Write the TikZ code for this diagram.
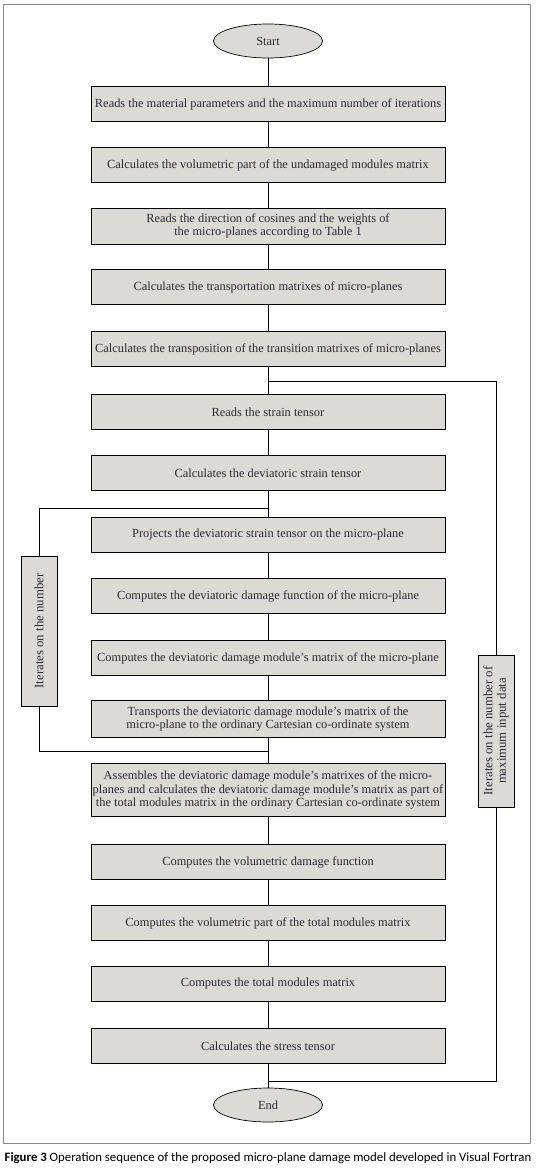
\documentclass[tikz,border=0pt]{standalone}
\usepackage{fontspec}
\setmainfont{Liberation Serif}
\newfontfamily\capfont{Carlito}
\usetikzlibrary{shapes.geometric}
\definecolor{boxfill}{HTML}{DBDAD4}
\definecolor{framegray}{HTML}{8A8A8A}
\definecolor{inkgray}{HTML}{2B2B35}
\tikzset{
  proc/.style={draw=black, fill=boxfill, line width=0.9pt, minimum width=354pt, minimum height=35pt,
    inner sep=0pt, align=center, text=inkgray, font=\fontsize{12.4}{13.8}\selectfont},
  term/.style={ellipse, draw=black, fill=boxfill, line width=0.7pt, minimum width=109pt, minimum height=34pt,
    inner sep=0pt, text=inkgray, font=\fontsize{12.4}{13.8}\selectfont},
  iter/.style={draw=black, fill=boxfill, line width=0.9pt, rotate=90, minimum height=36pt,
    inner sep=0pt, align=center, text=inkgray, font=\fontsize{12.8}{13.6}\selectfont},
  flow/.style={black, line width=0.9pt}
}
\begin{document}
\begin{tikzpicture}[x=1pt,y=-1pt]
  \useasboundingbox (0,0) rectangle (536,1169);
  \draw[framegray, line width=1.5pt] (3.5,4.5) rectangle (530.5,1143.5);

  % main sequence
  \node[term] (start) at (268,41) {Start};
  \node[proc] (b1) at (268,104) {Reads the material parameters and the maximum number of iterations};
  \node[proc] (b2) at (268,165) {Calculates the volumetric part of the undamaged modules matrix};
  \node[proc, minimum height=36pt] (b3) at (268,226) {Reads the direction of cosines and the weights of\\the micro-planes according to Table 1};
  \node[proc] (b4) at (268,287) {Calculates the transportation matrixes of micro-planes};
  \node[proc] (b5) at (268,349) {Calculates the transposition of the transition matrixes of micro-planes};
  \node[proc] (b6) at (268,412) {Reads the strain tensor};
  \node[proc] (b7) at (268,473) {Calculates the deviatoric strain tensor};
  \node[proc] (b8) at (268,535) {Projects the deviatoric strain tensor on the micro-plane};
  \node[proc] (b9) at (268,596) {Computes the deviatoric damage function of the micro-plane};
  \node[proc] (b10) at (268,658) {Computes the deviatoric damage module's matrix of the micro-plane};
  \node[proc, minimum height=37pt] (b11) at (268,719) {Transports the deviatoric damage module's matrix of the\\micro-plane to the ordinary Cartesian co-ordinate system};
  \node[proc, minimum height=53pt] (b12) at (268,790) {Assembles the deviatoric damage module's matrixes of the micro-\\planes and calculates the deviatoric damage module's matrix as part of\\the total modules matrix in the ordinary Cartesian co-ordinate system};
  \node[proc] (b13) at (268,862) {Computes the volumetric damage function};
  \node[proc] (b14) at (268,923) {Computes the volumetric part of the total modules matrix};
  \node[proc] (b15) at (268,984) {Computes the total modules matrix};
  \node[proc] (b16) at (268,1046) {Calculates the stress tensor};
  \node[term] (end) at (268,1105) {End};

  % loop boxes
  \node[iter, minimum width=150pt] (itin) at (39,631) {Iterates on the number};
  \node[iter, minimum width=152pt] (itout) at (496,731) {Iterates on the number of\\maximum input data};

  \coordinate (outtop) at (268,381);
  \coordinate (outbot) at (268,1081);
  \coordinate (intop) at (268,508);
  \coordinate (inbot) at (268,751);

  % connectors
  \draw[flow] (start) -- (b1);
  \foreach \a/\b in {b1/b2,b2/b3,b3/b4,b4/b5,b5/b6,b6/b7,b7/b8,b8/b9,b9/b10,b10/b11,b11/b12,b12/b13,b13/b14,b14/b15,b15/b16}
    \draw[flow] (\a) -- (\b);
  \draw[flow] (b16) -- (end);
  \draw[flow] (outtop) -| (itout.east);
  \draw[flow] (itout.west) |- (outbot);
  \draw[flow] (intop) -| (itin.east);
  \draw[flow] (itin.west) |- (inbot);

  % caption
  \node[font=\capfont\fontsize{12.8}{14}\selectfont, inner sep=0pt] (cap) at (268,1158)
    {\textbf{Figure 3} Operation sequence of the proposed micro-plane damage model developed in Visual Fortran};
\end{tikzpicture}
\end{document}
